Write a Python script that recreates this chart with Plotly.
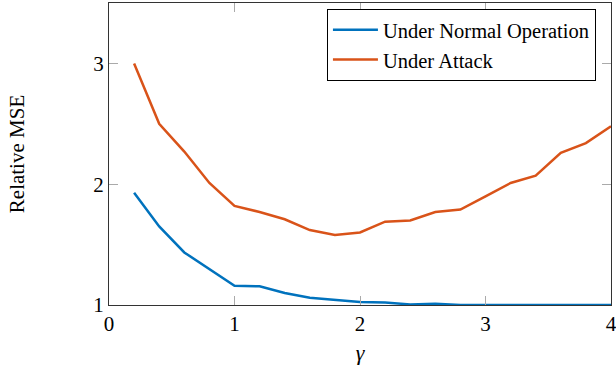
import plotly.graph_objects as go

gamma = [0.2, 0.4, 0.6, 0.8, 1.0, 1.2, 1.4, 1.6, 1.8, 2.0,
         2.2, 2.4, 2.6, 2.8, 3.0, 3.2, 3.4, 3.6, 3.8, 4.0]
normal = [1.93, 1.65, 1.435, 1.30, 1.16, 1.155, 1.10, 1.06, 1.04, 1.025,
          1.02, 1.005, 1.01, 1.0, 1.0, 1.0, 1.0, 1.0, 1.005, 1.0]
attack = [3.0, 2.5, 2.27, 2.01, 1.82, 1.77, 1.71, 1.62, 1.58, 1.60,
          1.69, 1.70, 1.77, 1.79, 1.90, 2.01, 2.07, 2.26, 2.34, 2.48]
series_names = ["Under Normal Operation", "Under Attack"]
x_ticks = [0, 1, 2, 3, 4]
y_ticks = [1, 2, 3]

fig = go.Figure()
fig.add_trace(go.Scatter(x=gamma, y=normal, mode="lines", name=series_names[0],
                         line=dict(color="#0072BD", width=2.5)))
fig.add_trace(go.Scatter(x=gamma, y=attack, mode="lines", name=series_names[1],
                         line=dict(color="#D95319", width=2.5)))

axis_common = dict(showgrid=False, zeroline=False, showline=True, linecolor="#333",
                   linewidth=1.2, mirror="ticks", ticks="inside", ticklen=9,
                   tickcolor="#aaa", tickwidth=1.2, automargin=False,
                   ticklabeloverflow="allow")
fig.update_xaxes(range=[0, 4], tickvals=x_ticks, **axis_common,
                 title=dict(text="<i>γ</i>", standoff=9, font=dict(size=22)))
fig.update_yaxes(range=[1, 3.5], tickvals=y_ticks, **axis_common,
                 title=dict(text="Relative MSE", standoff=62, font=dict(size=21)))

fig.update_layout(
    width=616, height=370,
    margin=dict(l=109, r=5, t=3, b=65),
    paper_bgcolor="white", plot_bgcolor="white",
    font=dict(family="Liberation Serif, Times New Roman, serif", size=21, color="black"),
    showlegend=True,
    legend=dict(x=0.97, y=0.98, xanchor="right", yanchor="top",
                bordercolor="black", borderwidth=1, bgcolor="white",
                font=dict(size=20.5), tracegroupgap=0, itemwidth=45),
)

fig.write_html("out.html", config={"displayModeBar": False},
               post_script="document.body.style.margin='0';")
